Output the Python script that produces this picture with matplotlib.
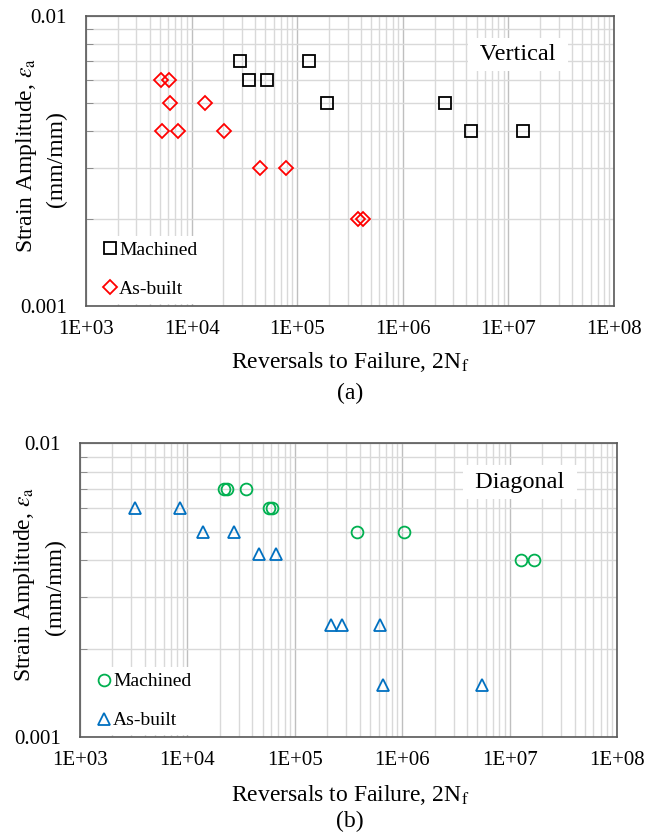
import matplotlib
matplotlib.use("Agg")
import matplotlib.pyplot as plt
from matplotlib.ticker import LogLocator, FixedLocator, FixedFormatter, NullFormatter

plt.rcParams['font.family'] = 'Liberation Serif'
plt.rcParams['mathtext.fontset'] = 'stix'

# (a) Vertical
vert_mach_n = [2.9e4, 3.5e4, 5.2e4, 1.29e5, 1.9e5, 2.5e6, 4.4e6, 1.37e7]
vert_mach_e = [0.007, 0.006, 0.006, 0.007, 0.005, 0.005, 0.004, 0.004]
vert_asb_n = [5.1e3, 6.1e3, 6.25e3, 1.35e4, 5.2e3, 7.5e3, 2.04e4, 4.4e4, 7.9e4, 3.75e5, 4.2e5]
vert_asb_e = [0.006, 0.006, 0.005, 0.005, 0.004, 0.004, 0.004, 0.003, 0.003, 0.002, 0.002]

# (b) Diagonal
diag_mach_n = [2.2e4, 2.35e4, 3.5e4, 5.7e4, 6.15e4, 3.8e5, 1.04e6, 1.28e7, 1.68e7]
diag_mach_e = [0.007, 0.007, 0.007, 0.006, 0.006, 0.005, 0.005, 0.004, 0.004]
diag_asb_n = [3.25e3, 8.6e3, 1.4e4, 2.7e4, 4.6e4, 6.65e4, 2.15e5, 2.75e5, 6.2e5, 6.6e5, 5.5e6]
diag_asb_e = [0.006, 0.006, 0.005, 0.005, 0.0042, 0.0042, 0.0024, 0.0024, 0.0024, 0.0015, 0.0015]

x_ticks = [1e3, 1e4, 1e5, 1e6, 1e7, 1e8]
x_labels = ['1E+03', '1E+04', '1E+05', '1E+06', '1E+07', '1E+08']
y_ticks = [0.001, 0.01]
y_labels = ['0.001', '0.01']

fig = plt.figure(figsize=(6.56, 8.36), dpi=100)
ax1 = fig.add_axes([0.1311, 0.634, 0.8049, 0.3469])
ax2 = fig.add_axes([0.122, 0.1181, 0.819, 0.3517])


def style_axes(ax):
    ax.set_xscale('log')
    ax.set_yscale('log')
    ax.set_xlim(1e3, 1e8)
    ax.set_ylim(1e-3, 1e-2)
    ax.xaxis.set_major_locator(FixedLocator(x_ticks))
    ax.xaxis.set_major_formatter(FixedFormatter(x_labels))
    ax.xaxis.set_minor_locator(LogLocator(base=10, subs=range(2, 10)))
    ax.xaxis.set_minor_formatter(NullFormatter())
    ax.yaxis.set_major_locator(FixedLocator(y_ticks))
    ax.yaxis.set_major_formatter(FixedFormatter(y_labels))
    ax.yaxis.set_minor_locator(LogLocator(base=10, subs=range(2, 10)))
    ax.yaxis.set_minor_formatter(NullFormatter())
    ax.tick_params(axis='x', which='both', length=0, labelsize=15, pad=10)
    ax.tick_params(axis='y', which='major', length=0, labelsize=15, pad=14)
    ax.tick_params(axis='y', which='minor', direction='in', length=5, color='#7f7f7f')
    ax.grid(True, which='minor', color='#d9d9d9', lw=1)
    ax.grid(True, which='major', color='#bfbfbf', lw=1)
    ax.set_axisbelow(True)
    for s in ax.spines.values():
        s.set_color('#595959')
        s.set_linewidth(1.2)


style_axes(ax1)
style_axes(ax2)

ax1.plot(vert_mach_n, vert_mach_e, ls='none', marker='s', ms=8, mfc='none',
         mec='black', mew=1.3, label='Machined')
ax1.plot(vert_asb_n, vert_asb_e, ls='none', marker='D', ms=7.5, mfc='none',
         mec='#ff0000', mew=1.3, label='As-built')

ax2.plot(diag_mach_n, diag_mach_e, ls='none', marker='o', ms=8.5, mfc='none',
         mec='#00b050', mew=1.3, label='Machined')
ax2.plot(diag_asb_n, diag_asb_e, ls='none', marker='^', ms=8.5, mfc='none',
         mec='#0070c0', mew=1.3, label='As-built')

for ax in (ax1, ax2):
    leg = ax.legend(loc='lower left', bbox_to_anchor=(0.02, 0.0), borderaxespad=0.1,
                    fontsize=14, handlelength=0.6, handletextpad=0.15,
                    labelspacing=1.1, borderpad=0.3, fancybox=False,
                    framealpha=1, edgecolor='none', facecolor='white')
    leg.set_zorder(5)

ax1.text(0.818, 0.867, ' Vertical ', transform=ax1.transAxes, fontsize=17.5,
         ha='center', va='center', zorder=6,
         bbox=dict(boxstyle='square,pad=0.25', fc='white', ec='none'))
ax2.text(0.819, 0.868, ' Diagonal ', transform=ax2.transAxes, fontsize=17.5,
         ha='center', va='center', zorder=6,
         bbox=dict(boxstyle='square,pad=0.25', fc='white', ec='none'))

xlab = 'Reversals to Failure, 2N$_{\\rm f}$'
ylab1 = 'Strain Amplitude, $\\varepsilon_{\\rm a}$'
ylab2 = '(mm/mm)'

W, H = 656, 836
fig.text(350 / W, 1 - 362 / H, xlab, ha='center', va='center', fontsize=17)
fig.text(350 / W, 1 - 393 / H, '(a)', ha='center', va='center', fontsize=17)
fig.text(27 / W, 1 - 155 / H, ylab1, ha='center', va='center', rotation=90, fontsize=17)
fig.text(56 / W, 1 - 159 / H, ylab2, ha='center', va='center', rotation=90, fontsize=17)

fig.text(350 / W, 1 - 795 / H, xlab, ha='center', va='center', fontsize=17)
fig.text(350 / W, 1 - 821 / H, '(b)', ha='center', va='center', fontsize=17)
fig.text(25 / W, 1 - 584 / H, ylab1, ha='center', va='center', rotation=90, fontsize=17)
fig.text(55 / W, 1 - 587 / H, ylab2, ha='center', va='center', rotation=90, fontsize=17)

fig.savefig('out.png', dpi=100, facecolor='white')
